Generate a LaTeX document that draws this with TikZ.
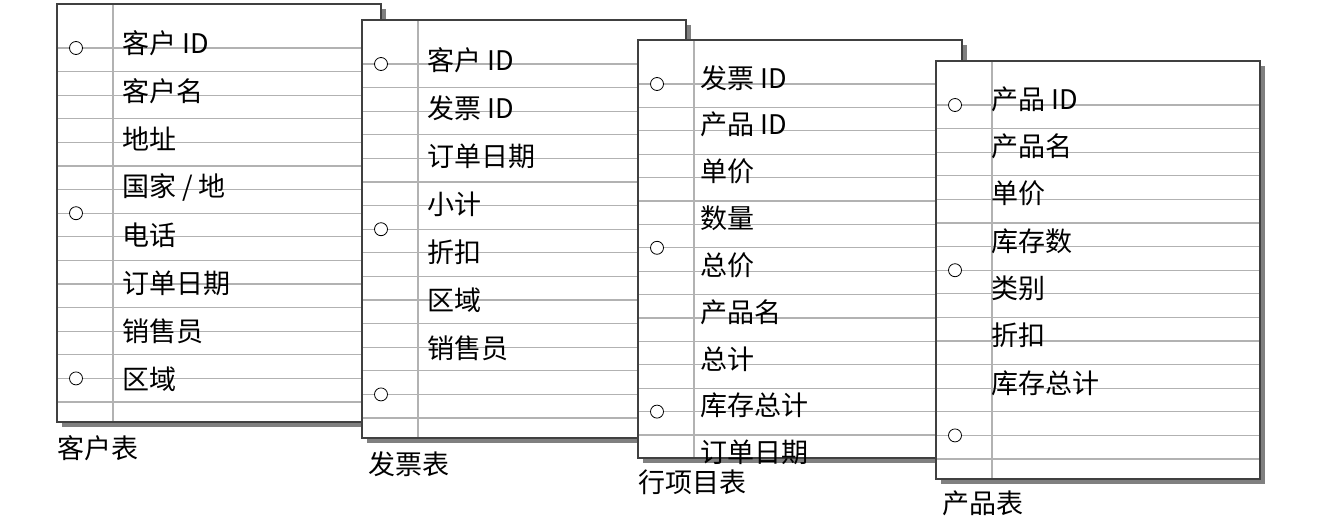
\documentclass[tikz,border=0pt]{standalone}
\usepackage{fontspec}
\setmainfont{Liberation Sans}
\newfontfamily\cjk{Noto Sans CJK SC}
\usetikzlibrary{positioning}

\tikzset{
  sheetbox/.style={draw=black!75,line width=1.2pt,fill=white},
  shadowbox/.style={fill=black!50,draw=none},
  ruleline/.style={draw=black!30,line width=1.2pt},
  hole/.style={circle,draw=black,line width=0.8pt,minimum size=13pt,inner sep=0pt,fill=white},
  field/.style={anchor=west,font=\cjk\fontsize{27}{27}\selectfont,inner sep=0pt},
  caption/.style={anchor=north west,font=\cjk\fontsize{27}{27}\selectfont,inner sep=0pt}
}

% sheet: #1 x, #2 y, #3 line step, #4 name
\newcommand{\sheet}[4]{%
  \fill[shadowbox] (#1+5,#2+5) rectangle (#1+329,#2+423);
  \path[sheetbox] (#1,#2) rectangle (#1+324,#2+418);
  \foreach \i in {0,...,15}{
    \pgfmathsetmacro{\ly}{#2+44+\i*#3}
    \pgfmathparse{\ly<#2+416 ? 1 : 0}
    \ifnum\pgfmathresult=1 \draw[ruleline] (#1,\ly) -- (#1+324,\ly);\fi
  }
  \draw[ruleline] (#1+56,#2) -- (#1+56,#2+418);
  \foreach \k in {0,7,14}{
    \node[hole] (#4-h\k) at (#1+19,#2+44+\k*#3) {};
  }
  \draw[sheetbox,fill=none] (#1,#2) rectangle (#1+324,#2+418);
}

\begin{document}
\begin{tikzpicture}[x=1pt,y=-1pt]
  \useasboundingbox (0,0) rectangle (1343,528);

  % 客户表
  \sheet{57}{4}{23.6}{cust}
  \foreach \t [count=\n from 0] in {客户 ID,客户名,地址,国家 / 地,电话,订单日期,销售员,区域}
    \node[field] (cust-\n) at (122,43+\n*48) {\t};
  \node[caption] (custcap) at (57,435) {客户表};

  % 发票表
  \sheet{362}{20}{23.6}{inv}
  \foreach \t [count=\n from 0] in {客户 ID,发票 ID,订单日期,小计,折扣,区域,销售员}
    \node[field] (inv-\n) at (427,60+\n*48) {\t};
  \node[caption] (invcap) at (368,452) {发票表};

  % 行项目表
  \sheet{638}{40}{23.4}{item}
  \foreach \t [count=\n from 0] in {发票 ID,产品 ID,单价,数量,总价,产品名,总计,库存总计,订单日期}
    \node[field] (item-\n) at (700,78+\n*46.8) {\t};
  \node[caption] (itemcap) at (638,470) {行项目表};

  % 产品表
  \sheet{936}{61}{23.6}{prod}
  \foreach \t [count=\n from 0] in {产品 ID,产品名,单价,库存数,类别,折扣,库存总计}
    \node[field] (prod-\n) at (991,99+\n*47.3) {\t};
  \node[caption] (prodcap) at (942,491) {产品表};
\end{tikzpicture}
\end{document}
